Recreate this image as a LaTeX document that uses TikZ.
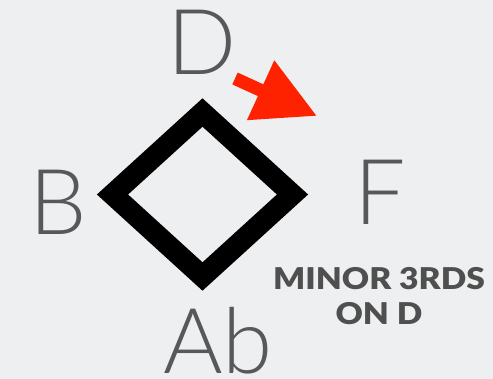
\documentclass[tikz,border=0pt]{standalone}
\usepackage{fontspec}
\setmainfont{Lato}[UprightFont={* Light}, BoldFont={* Black}]
\usepackage{tikz}
\usetikzlibrary{arrows.meta,positioning}
\definecolor{slidebg}{RGB}{238,239,241}
\definecolor{notegray}{RGB}{88,88,88}
\definecolor{arrowred}{RGB}{255,34,0}
\begin{document}
\begin{tikzpicture}[
  x=1pt, y=-1pt,
  note/.style={text=notegray, inner sep=0pt, anchor=base,
    font=\fontsize{91}{91}\selectfont},
  caption/.style={text=notegray!90!black, inner sep=0pt, anchor=base,
    font=\bfseries\fontsize{30}{30}\selectfont\addfontfeatures{FakeStretch=1.12}},
  ring/.style={draw=black, line width=21pt, line join=miter},
  arr/.style={-{Triangle[length=62pt, width=62pt]}, draw=arrowred, line width=13pt}
]
%% ─── Slide background ───────────────────────────────────────────────────────
\fill[slidebg] (0,0) rectangle (493,379);
\useasboundingbox (0,0) rectangle (493,379);
%% ─── Diamond of minor thirds ───────────────────────────────────────────────
\coordinate (top)    at (202.5, 112.5);
\coordinate (right)  at (292.5, 194.5);
\coordinate (bottom) at (202.5, 276.5);
\coordinate (left)   at (112.5, 194.5);
\draw[ring] (top) -- (right) -- (bottom) -- (left) -- cycle;
%% ─── Note names ─────────────────────────────────────────────────────────────
\node[note] (d)  at (202, 75)  {D};
\node[note] (b)  at (58, 235)  {B};
\node[note] (f)  at (380, 225) {F};
\node[note] (ab) at (218, 374) {Ab};
%% ─── Caption ────────────────────────────────────────────────────────────────
\node[caption] (cap)  at (379, 290) {MINOR 3RDS};
\node[caption] (capb) at (379, 325) {ON D};
%% ─── Arrow ──────────────────────────────────────────────────────────────────
\coordinate (arrtail) at (235, 78.5);
\coordinate (arrtip)  at (317, 116);
\draw[arr] (arrtail) -- (arrtip);
\end{tikzpicture}
\end{document}
